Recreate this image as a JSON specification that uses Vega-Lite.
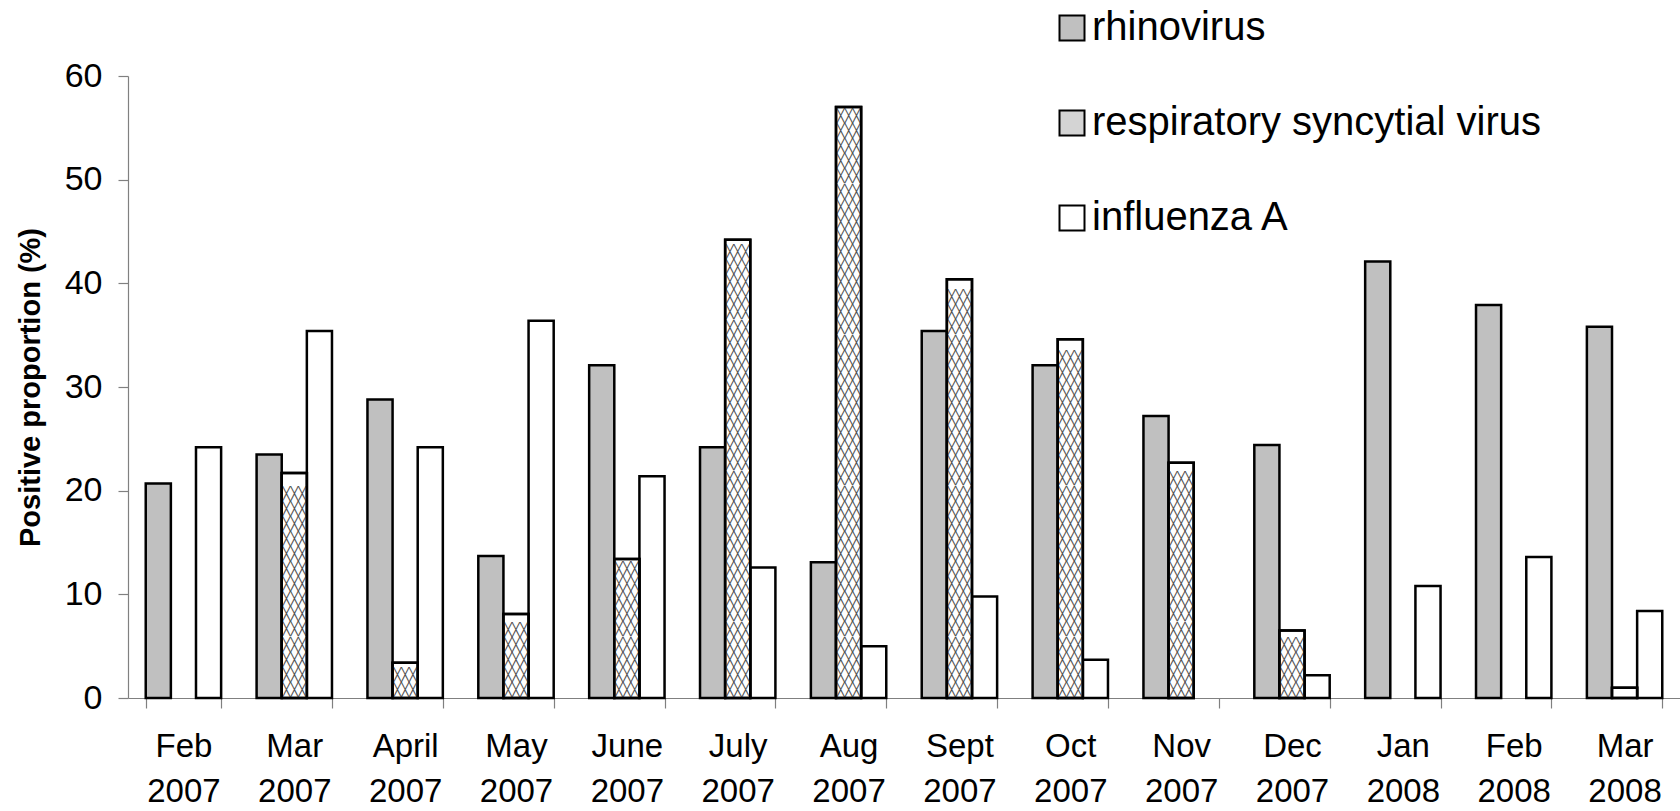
{
  "$schema": "https://vega.github.io/schema/vega-lite/v6.json",
  "width": 1552,
  "height": 622,
  "autosize": {"type": "none"},
  "padding": {"left": 128, "top": 76, "right": 0, "bottom": 113},
  "background": "white",
  "config": {"view": {"stroke": null}, "font": "Liberation Sans"},
  "data": {
    "values": [
      {"month": "Feb 2007", "virus": "rhinovirus", "value": 20.7},
      {"month": "Feb 2007", "virus": "influenza A", "value": 24.2},
      {"month": "Mar 2007", "virus": "rhinovirus", "value": 23.5},
      {"month": "Mar 2007", "virus": "respiratory syncytial virus", "value": 21.7},
      {"month": "Mar 2007", "virus": "influenza A", "value": 35.4},
      {"month": "April 2007", "virus": "rhinovirus", "value": 28.8},
      {"month": "April 2007", "virus": "respiratory syncytial virus", "value": 3.4},
      {"month": "April 2007", "virus": "influenza A", "value": 24.2},
      {"month": "May 2007", "virus": "rhinovirus", "value": 13.7},
      {"month": "May 2007", "virus": "respiratory syncytial virus", "value": 8.1},
      {"month": "May 2007", "virus": "influenza A", "value": 36.4},
      {"month": "June 2007", "virus": "rhinovirus", "value": 32.1},
      {"month": "June 2007", "virus": "respiratory syncytial virus", "value": 13.4},
      {"month": "June 2007", "virus": "influenza A", "value": 21.4},
      {"month": "July 2007", "virus": "rhinovirus", "value": 24.2},
      {"month": "July 2007", "virus": "respiratory syncytial virus", "value": 44.2},
      {"month": "July 2007", "virus": "influenza A", "value": 12.6},
      {"month": "Aug 2007", "virus": "rhinovirus", "value": 13.1},
      {"month": "Aug 2007", "virus": "respiratory syncytial virus", "value": 57.0},
      {"month": "Aug 2007", "virus": "influenza A", "value": 5.0},
      {"month": "Sept 2007", "virus": "rhinovirus", "value": 35.4},
      {"month": "Sept 2007", "virus": "respiratory syncytial virus", "value": 40.4},
      {"month": "Sept 2007", "virus": "influenza A", "value": 9.8},
      {"month": "Oct 2007", "virus": "rhinovirus", "value": 32.1},
      {"month": "Oct 2007", "virus": "respiratory syncytial virus", "value": 34.6},
      {"month": "Oct 2007", "virus": "influenza A", "value": 3.7},
      {"month": "Nov 2007", "virus": "rhinovirus", "value": 27.2},
      {"month": "Nov 2007", "virus": "respiratory syncytial virus", "value": 22.7},
      {"month": "Dec 2007", "virus": "rhinovirus", "value": 24.4},
      {"month": "Dec 2007", "virus": "respiratory syncytial virus", "value": 6.5},
      {"month": "Dec 2007", "virus": "influenza A", "value": 2.2},
      {"month": "Jan 2008", "virus": "rhinovirus", "value": 42.1},
      {"month": "Jan 2008", "virus": "influenza A", "value": 10.8},
      {"month": "Feb 2008", "virus": "rhinovirus", "value": 37.9},
      {"month": "Feb 2008", "virus": "influenza A", "value": 13.6},
      {"month": "Mar 2008", "virus": "rhinovirus", "value": 35.8},
      {"month": "Mar 2008", "virus": "respiratory syncytial virus", "value": 1.0},
      {"month": "Mar 2008", "virus": "influenza A", "value": 8.4}
    ]
  },
  "encoding": {
    "x": {
      "field": "month",
      "type": "nominal",
      "sort": null,
      "scale": {
        "domain": ["Feb 2007", "Mar 2007", "April 2007", "May 2007", "June 2007", "July 2007", "Aug 2007", "Sept 2007", "Oct 2007", "Nov 2007", "Dec 2007", "Jan 2008", "Feb 2008", "Mar 2008"],
        "paddingInner": 0.32,
        "paddingOuter": 0.16
      },
      "axis": {
        "title": null,
        "labelExpr": "split(datum.label, ' ')",
        "labelAngle": 0,
        "labelFont": "Liberation Sans",
        "labelFontSize": 33,
        "labelLineHeight": 45,
        "labelColor": "black",
        "labelPadding": 22,
        "tickBand": "extent",
        "tickSize": 10,
        "tickColor": "#808080",
        "domainColor": "#808080",
        "domainWidth": 1.2,
        "tickWidth": 1.2
      }
    },
    "xOffset": {
      "field": "virus",
      "type": "nominal",
      "scale": {"domain": ["rhinovirus", "respiratory syncytial virus", "influenza A"]}
    },
    "y": {
      "field": "value",
      "type": "quantitative",
      "scale": {"domain": [0, 60], "nice": false},
      "axis": {
        "values": [0, 10, 20, 30, 40, 50, 60],
        "grid": false,
        "title": "Positive proportion (%)",
        "titleFont": "Liberation Sans",
        "titleFontSize": 29,
        "titleFontWeight": "bold",
        "titleColor": "black",
        "titlePadding": 19,
        "labelFont": "Liberation Sans",
        "labelFontSize": 34,
        "labelColor": "black",
        "labelPadding": 16,
        "tickSize": 10,
        "tickColor": "#808080",
        "domainColor": "#808080",
        "domainWidth": 1.2,
        "tickWidth": 1.2
      }
    }
  },
  "layer": [
    {
      "transform": [{"filter": "datum.virus !== 'respiratory syncytial virus'"}],
      "mark": {"type": "bar", "stroke": "black", "strokeWidth": 2.5},
      "encoding": {
        "fill": {
          "field": "virus",
          "type": "nominal",
          "scale": {
            "domain": ["rhinovirus", "respiratory syncytial virus", "influenza A"],
            "range": ["#c0c0c0", "#d4d4d4", "#ffffff"]
          },
          "legend": {
            "title": null,
            "orient": "none",
            "legendX": 924,
            "legendY": -68,
            "padding": 0,
            "symbolType": "square",
            "symbolSize": 625,
            "symbolStrokeColor": "black",
            "symbolStrokeWidth": 2,
            "symbolOpacity": 1,
            "labelFont": "Liberation Sans",
            "labelFontSize": 40,
            "labelColor": "black",
            "labelOffset": 0,
            "labelLimit": 0,
            "rowPadding": 55,
            "encode": {
              "symbols": {
                "update": {
                  "stroke": {"value": "black"},
                  "strokeWidth": {"value": 2},
                  "opacity": {"value": 1}
                }
              }
            }
          }
        }
      }
    },
    {
      "transform": [{"filter": "datum.virus === 'respiratory syncytial virus'"}],
      "mark": {"type": "bar", "fill": "white", "stroke": "black", "strokeWidth": 2.5},
      "encoding": {}
    },
    {
      "transform": [
        {"filter": "datum.virus === 'respiratory syncytial virus'"},
        {"calculate": "floor(datum.value * 622 / 60 / 15.1)", "as": "nlines"},
        {"calculate": "datum.nlines * 15.1 * 60 / 622", "as": "hatchtop"},
        {"calculate": "split(slice(pad('', datum.nlines, '╳╳╳|'), 0, -1), '|')", "as": "hatch"}
      ],
      "mark": {
        "type": "text",
        "font": "DejaVu Sans Mono",
        "fontSize": 13,
        "lineHeight": 15.1,
        "align": "center",
        "baseline": "line-top",
        "color": "#505050"
      },
      "encoding": {
        "y": {"field": "hatchtop", "type": "quantitative"},
        "text": {"field": "hatch"}
      }
    },
    {
      "transform": [{"filter": "datum.virus === 'respiratory syncytial virus'"}],
      "mark": {"type": "bar", "filled": false, "stroke": "black", "strokeWidth": 2.5},
      "encoding": {}
    }
  ]
}
